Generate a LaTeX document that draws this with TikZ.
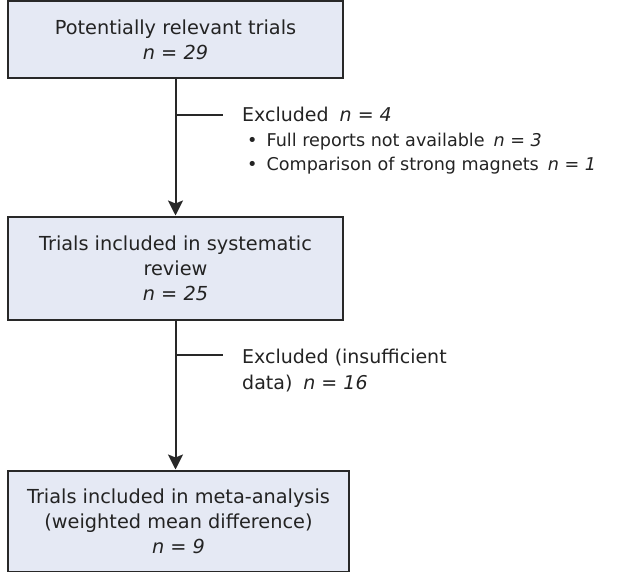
\documentclass[tikz,border=0pt]{standalone}
\usepackage{fontspec}
\setmainfont{DejaVu Sans}
\usepackage{xcolor}
\usetikzlibrary{arrows.meta, positioning}
\definecolor{boxfill}{RGB}{229, 233, 244}
\definecolor{boxline}{RGB}{40, 40, 40}
\definecolor{textgray}{RGB}{35, 35, 35}

\begin{document}
\begin{tikzpicture}[
    x=1pt, y=-1pt,
    stage/.style={rectangle, draw=boxline, fill=boxfill, line width=2pt, minimum width=335pt, minimum height=#1, align=center, text=textgray, font=\fontsize{19.3}{25}\selectfont},
    note/.style={anchor=base west, inner sep=0pt, align=left, text=textgray, font=\fontsize{19}{26}\selectfont},
    item/.style={note, font=\fontsize{17.6}{26}\selectfont},
    flow/.style={-{Stealth[length=15pt, width=15pt, inset=3pt]}, line width=2pt, color=boxline},
    branch/.style={line width=2pt, color=boxline}
]
\useasboundingbox (0,0) rectangle (618,572);

% Stages of the selection
\node[stage=77pt] (pool) at (175.5,40) {Potentially relevant trials\\\textit{n = 29}};
\node[stage=103pt, below=136pt of pool] (review) {Trials included in systematic\\review\\\textit{n = 25}};
\node[stage=101pt, minimum width=341pt, below=149pt of review, xshift=3pt] (meta) {Trials included in meta-analysis\\(weighted mean difference)\\\textit{n = 9}};

% Main flow
\draw[flow] (pool) -- (review);
\draw[flow] (review.south) -- (review.south |- meta.north);

% Exclusions after screening
\coordinate (cut1) at (175.5,115);
\coordinate (cut1end) at (223,115);
\draw[branch] (cut1) -- (cut1end);
\node[note] (excl1) at (242,122) {Excluded\hspace{11pt}\textit{n = 4}};
\node[item] (reports) at (247,146.5) {\textbullet\hspace{9pt}Full reports not available\hspace{9pt}\textit{n = 3}};
\node[item] (magnets) at (247,171) {\textbullet\hspace{9pt}Comparison of strong magnets\hspace{9pt}\textit{n = 1}};

% Exclusions after review
\coordinate (cut2) at (175.5,355);
\coordinate (cut2end) at (223,355);
\draw[branch] (cut2) -- (cut2end);
\node[note] (excl2) at (242,389) {Excluded (insufficient\\data)\hspace{11pt}\textit{n = 16}};

\end{tikzpicture}
\end{document}
